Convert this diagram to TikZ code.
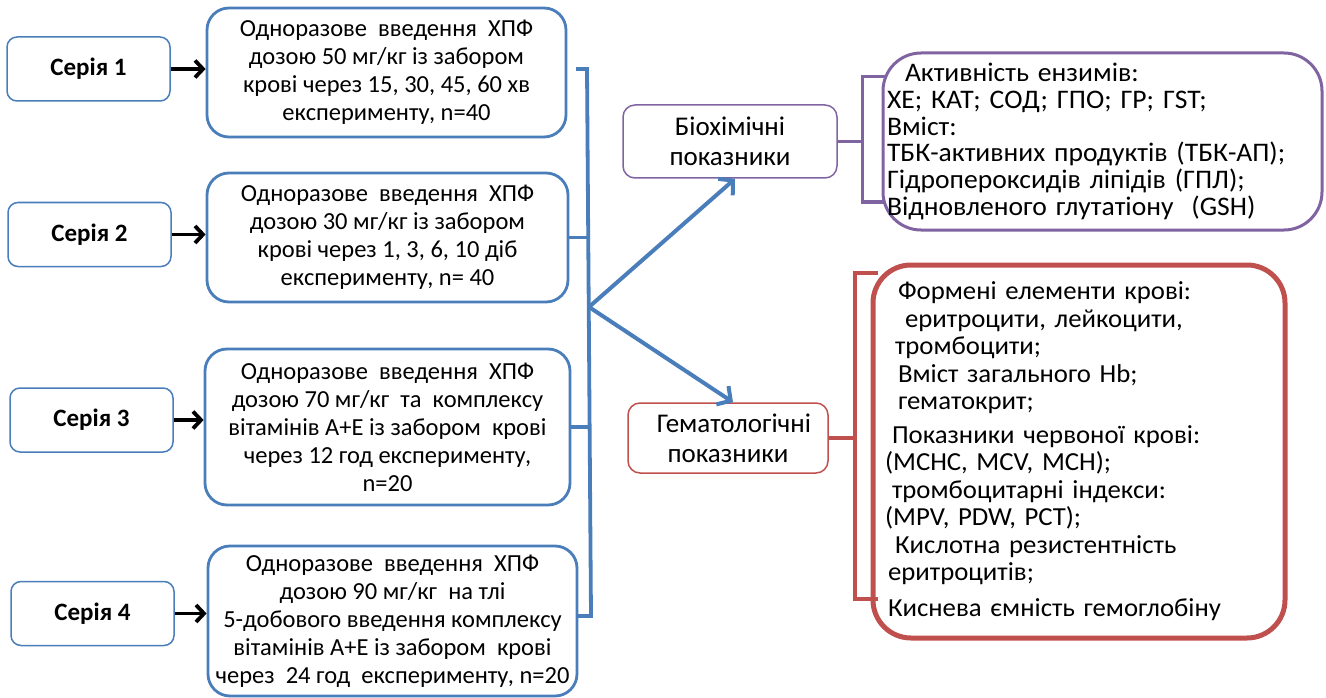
\documentclass[tikz,border=0pt]{standalone}
\usepackage{fontspec}
\setmainfont{Carlito}
\newfontfamily\rfont[WordSpace=0.65,FakeStretch=1.03]{Carlito}
\usetikzlibrary{arrows.meta,calc}
\definecolor{bl}{HTML}{4A7EBB}
\definecolor{pu}{HTML}{8064A2}
\definecolor{rd}{HTML}{C0504D}
\frenchspacing
\begin{document}
\begin{tikzpicture}[x=1pt,y=-1pt,
  ser/.style={draw=bl, line width=1.5pt, rounded corners=10pt, inner sep=0pt,
    minimum width=163pt, minimum height=64pt, font=\fontsize{25}{30}\selectfont\bfseries},
  det/.style={draw=bl, line width=2.8pt, rounded corners=22pt, inner sep=0pt, align=center,
    font=\fontsize{24.5}{28}\selectfont},
  mid/.style={line width=1.5pt, rounded corners=12pt, inner sep=0pt, align=center,
    font=\fontsize{27}{30}\selectfont},
  big/.style={rounded corners=38pt, inner sep=0pt, align=left},
  sarrow/.style={draw=black, line width=3.8pt, -{Straight Barb[length=8pt,width=17pt,line width=3.8pt]}},
  farrow/.style={draw=bl, line width=4pt, -{Straight Barb[length=10pt,width=22pt,line width=4pt]}},
  brk/.style={line width=3.8pt}
]
\useasboundingbox (0,0) rectangle (1326,698);

% series boxes
\node[ser] (s1) at (88.5,69) {Серія 1};
\node[ser] (s2) at (89.5,234.5) {Серія 2};
\node[ser] (s3) at (91.5,420) {Серія 3};
\node[ser] (s4) at (92.5,613.5) {Серія 4};

% detail boxes
\node[det, minimum width=359pt, minimum height=129pt] (d1) at (386.5,72.5)
  {Одноразове\ \ введення\ \ ХПФ\\дозою 50 мг/кг із забором\\крові через 15, 30, 45, 60 хв\\експерименту, n=40};
\node[det, minimum width=361pt, minimum height=129pt] (d2) at (387.5,237.5)
  {Одноразове\ \ введення\ \ ХПФ\\дозою 30 мг/кг із забором\\крові через 1, 3, 6, 10 діб\\експерименту, n= 40};
\node[det, minimum width=365pt, minimum height=156pt] (d3) at (387.5,427)
  {Одноразове\ \ введення\ \ ХПФ\\дозою 70 мг/кг\ \ та\ \ комплексу\\вітамінів А+Е із забором\ \ крові\\через\ 12 год експерименту,\\n=20};
\node[det, minimum width=369pt, minimum height=150pt] (d4) at (392.5,621)
  {Одноразове\ \ введення\ \ ХПФ\\дозою 90 мг/кг\ \ на тлі\\5-добового введення комплексу\\вітамінів А+Е із забором\ \ крові\\через\ \ 24 год\ \ експерименту, n=20};

% arrows series -> details
\draw[sarrow] (s1.east) -- (s1.east -| d1.west);
\draw[sarrow] (s2.east) -- (s2.east -| d2.west);
\draw[sarrow] (s3.east) -- (s3.east -| d3.west);
\draw[sarrow] (s4.east) -- (s4.east -| d4.west);

% blue bracket
\coordinate (bt) at (587,69);
\coordinate (bb) at (591,616);
\coordinate (fk) at (589,307);
\draw[bl, brk] (576,69) -- (bt) -- (bb) -- (577,616);
\draw[bl, brk] (d2.east) -- (d2.east -| fk);
\draw[bl, brk] (d3.east) -- (d3.east -| bb);

% middle boxes
\node[mid, draw=pu, minimum width=214pt, minimum height=73pt] (b) at (730,141.5) {Біохімічні\\показники};
\node[mid, draw=rd, minimum width=200pt, minimum height=70pt] (g) at (728,438) {\hspace*{12pt}Гематологічні\\показники};

\draw[farrow] (fk) -- ([xshift=5pt]b.south);
\draw[farrow] (fk) -- ([xshift=5pt]g.north);

% big boxes
\node[big, draw=pu, line width=3pt, minimum width=439pt, minimum height=177pt,
  text width=431pt, font=\rfont\fontsize{26.8}{26.8}\selectfont] (P) at (1102.5,141.5)
  {\hspace*{18pt}Активність ензимів:\\
   ХЕ; КАТ; СОД; ГПО; ГР; ГST;\\
   Вміст:\\
   ТБК-активних продуктів (ТБК-АП);\\
   Гідропероксидів ліпідів (ГПЛ);\\
   Відновленого глутатіону\ \ (GSH)};

\node[big, draw=rd, line width=5pt, minimum width=412pt, minimum height=373pt,
  text width=388pt, font=\rfont\fontsize{26}{27.5}\selectfont] (R) at (1079,451.5)
  {\hspace*{13pt}Формені елементи крові:\\
   \hspace*{20pt}еритроцити, лейкоцити,\\
   \hspace*{10pt}тромбоцити;\\
   \hspace*{13pt}Вміст загального Hb;\\
   \hspace*{13pt}гематокрит;\\[6pt]
   \hspace*{7pt}Показники червоної крові:\\
   (MCHC, MCV, MCH);\\
   \hspace*{7pt}тромбоцитарні індекси:\\
   (MPV, PDW, PCT);\\
   \hspace*{10pt}Кислотна резистентність\\
   \hspace*{3pt}еритроцитів;\\[8.5pt]
   \hspace*{3pt}Киснева ємність гемоглобіну};

% purple bracket
\coordinate (pt) at (862,77);
\coordinate (pb) at (862,202);
\draw[pu, line width=3pt] (b.east) -- (b.east -| pt);
\draw[pu, line width=3pt] ([xshift=3pt]P.west |- pt) -- (pt) -- (pb) -- ([xshift=3pt]P.west |- pb);

% red bracket
\coordinate (rt) at (855,273);
\coordinate (rb) at (855,599);
\draw[rd, line width=3.5pt] (g.east) -- (g.east -| rt);
\draw[rd, line width=3.5pt] ([xshift=7pt]R.west |- rt) -- (rt) -- (rb) -- ([xshift=7pt]R.west |- rb);
\end{tikzpicture}
\end{document}
